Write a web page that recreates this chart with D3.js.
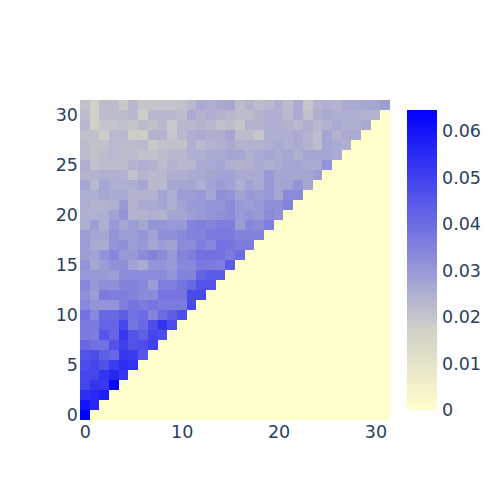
<!DOCTYPE html>
<html>
<head>
<meta charset="utf-8">
<script src="https://cdn.jsdelivr.net/npm/d3@7"></script>
<style>
  body { margin: 0; background: #fff; }
  text { font-family: "DejaVu Sans", Verdana, sans-serif; }
</style>
</head>
<body>
<svg id="chart"></svg>
<script>
const rows = [
  [0.0645],
  [0.060, 0.056],
  [0.054, 0.055, 0.058],
  [0.049, 0.053, 0.052, 0.063],
  [0.049, 0.049, 0.053, 0.056, 0.052],
  [0.047, 0.049, 0.046, 0.051, 0.054, 0.053],
  [0.046, 0.047, 0.043, 0.041, 0.052, 0.051, 0.045],
  [0.041, 0.039, 0.039, 0.046, 0.050, 0.046, 0.047, 0.050],
  [0.037, 0.036, 0.045, 0.042, 0.052, 0.046, 0.043, 0.049, 0.047],
  [0.037, 0.037, 0.042, 0.042, 0.049, 0.038, 0.041, 0.047, 0.053, 0.047],
  [0.039, 0.034, 0.041, 0.041, 0.043, 0.039, 0.040, 0.035, 0.040, 0.043, 0.047],
  [0.034, 0.031, 0.031, 0.031, 0.036, 0.038, 0.037, 0.038, 0.037, 0.037, 0.037, 0.048],
  [0.032, 0.029, 0.037, 0.036, 0.036, 0.035, 0.033, 0.033, 0.038, 0.038, 0.038, 0.048, 0.048],
  [0.034, 0.030, 0.032, 0.032, 0.035, 0.035, 0.034, 0.029, 0.036, 0.036, 0.038, 0.041, 0.046, 0.046],
  [0.030, 0.030, 0.030, 0.029, 0.033, 0.033, 0.033, 0.033, 0.033, 0.031, 0.035, 0.035, 0.042, 0.044, 0.044],
  [0.031, 0.027, 0.029, 0.032, 0.032, 0.028, 0.026, 0.031, 0.031, 0.030, 0.034, 0.034, 0.037, 0.037, 0.036, 0.044],
  [0.029, 0.028, 0.031, 0.034, 0.030, 0.030, 0.033, 0.035, 0.033, 0.030, 0.035, 0.036, 0.039, 0.039, 0.039, 0.037, 0.040],
  [0.029, 0.026, 0.026, 0.031, 0.032, 0.029, 0.030, 0.027, 0.029, 0.028, 0.033, 0.033, 0.036, 0.034, 0.039, 0.038, 0.036, 0.037],
  [0.029, 0.027, 0.027, 0.031, 0.029, 0.029, 0.031, 0.028, 0.032, 0.032, 0.034, 0.035, 0.035, 0.037, 0.037, 0.037, 0.035, 0.035, 0.035],
  [0.025, 0.029, 0.025, 0.030, 0.027, 0.029, 0.027, 0.031, 0.031, 0.030, 0.030, 0.035, 0.036, 0.035, 0.036, 0.036, 0.029, 0.034, 0.033, 0.036],
  [0.025, 0.025, 0.025, 0.028, 0.031, 0.024, 0.024, 0.025, 0.024, 0.027, 0.027, 0.029, 0.030, 0.031, 0.032, 0.033, 0.030, 0.031, 0.030, 0.033, 0.032],
  [0.025, 0.024, 0.024, 0.025, 0.030, 0.024, 0.026, 0.026, 0.027, 0.025, 0.028, 0.030, 0.030, 0.031, 0.031, 0.033, 0.030, 0.029, 0.030, 0.032, 0.032, 0.035],
  [0.025, 0.025, 0.027, 0.026, 0.026, 0.024, 0.024, 0.024, 0.027, 0.025, 0.029, 0.029, 0.030, 0.027, 0.032, 0.031, 0.028, 0.030, 0.029, 0.030, 0.027, 0.033, 0.033],
  [0.027, 0.023, 0.027, 0.025, 0.025, 0.025, 0.027, 0.023, 0.023, 0.027, 0.027, 0.027, 0.025, 0.028, 0.029, 0.028, 0.025, 0.028, 0.026, 0.030, 0.027, 0.028, 0.031, 0.027],
  [0.024, 0.024, 0.025, 0.025, 0.024, 0.021, 0.024, 0.023, 0.023, 0.025, 0.025, 0.026, 0.026, 0.027, 0.028, 0.028, 0.026, 0.026, 0.026, 0.030, 0.027, 0.027, 0.027, 0.027, 0.029],
  [0.025, 0.021, 0.022, 0.022, 0.022, 0.024, 0.025, 0.024, 0.022, 0.024, 0.023, 0.023, 0.026, 0.026, 0.027, 0.025, 0.024, 0.025, 0.026, 0.025, 0.026, 0.027, 0.027, 0.026, 0.026, 0.031],
  [0.022, 0.021, 0.022, 0.023, 0.022, 0.022, 0.021, 0.021, 0.022, 0.023, 0.023, 0.025, 0.025, 0.026, 0.026, 0.027, 0.027, 0.025, 0.026, 0.027, 0.026, 0.027, 0.025, 0.027, 0.027, 0.027, 0.026],
  [0.022, 0.021, 0.021, 0.023, 0.022, 0.022, 0.023, 0.019, 0.021, 0.021, 0.021, 0.025, 0.023, 0.024, 0.025, 0.026, 0.024, 0.024, 0.024, 0.025, 0.026, 0.025, 0.026, 0.024, 0.022, 0.027, 0.026, 0.025],
  [0.021, 0.021, 0.018, 0.023, 0.023, 0.018, 0.018, 0.024, 0.024, 0.020, 0.023, 0.025, 0.026, 0.025, 0.025, 0.027, 0.022, 0.022, 0.020, 0.025, 0.025, 0.025, 0.026, 0.024, 0.022, 0.027, 0.024, 0.026, 0.026],
  [0.023, 0.017, 0.020, 0.020, 0.021, 0.020, 0.022, 0.021, 0.023, 0.019, 0.023, 0.023, 0.024, 0.023, 0.021, 0.022, 0.020, 0.024, 0.024, 0.025, 0.025, 0.024, 0.023, 0.025, 0.023, 0.024, 0.026, 0.025, 0.025, 0.026],
  [0.022, 0.017, 0.022, 0.022, 0.022, 0.023, 0.018, 0.023, 0.023, 0.023, 0.022, 0.026, 0.024, 0.025, 0.024, 0.023, 0.022, 0.022, 0.024, 0.025, 0.025, 0.023, 0.026, 0.021, 0.025, 0.026, 0.025, 0.025, 0.025, 0.024, 0.024],
  [0.021, 0.017, 0.022, 0.022, 0.019, 0.023, 0.020, 0.020, 0.020, 0.020, 0.021, 0.023, 0.026, 0.025, 0.026, 0.027, 0.022, 0.024, 0.022, 0.023, 0.025, 0.022, 0.026, 0.020, 0.024, 0.025, 0.024, 0.026, 0.026, 0.027, 0.027, 0.029]
];
const axisTicks = [0, 10, 20, 30];
const yTicks = [0, 5, 10, 15, 20, 25, 30];
const barTicks = [0, 0.01, 0.02, 0.03, 0.04, 0.05, 0.06];
const zMax = 0.0645;
const stops = [0, 0.0175, 0.0645];
const stopColors = ["#ffffcc", "#d0d0c8", "#0000ff"];

const svg = d3.select("#chart").attr("width", 500).attr("height", 500);
const x = d3.scaleLinear().domain([-0.5, 31.5]).range([80, 390]);
const y = d3.scaleLinear().domain([-0.5, 31.5]).range([420, 100]);
const color = d3.scaleLinear().domain(stops).range(stopColors);

// build the full grid, empty triangle is zero
const cells = [];
for (let r = 0; r < 32; r++) {
  for (let c = 0; c < 32; c++) {
    cells.push({ r: r, c: c, v: rows[r][c] === undefined ? 0 : rows[r][c] });
  }
}

svg.append("g").selectAll("rect")
  .data(cells)
  .enter().append("rect")
  .attr("x", d => x(d.c - 0.5))
  .attr("y", d => y(d.r + 0.5))
  .attr("width", d => x(d.c + 0.5) - x(d.c - 0.5))
  .attr("height", d => y(d.r - 0.5) - y(d.r + 0.5))
  .attr("fill", d => color(d.v))
  .attr("shape-rendering", "crispEdges");

const xAxis = d3.axisBottom(x).tickValues(axisTicks).tickSize(0).tickPadding(6).tickFormat(d3.format("d"));
const yAxis = d3.axisLeft(y).tickValues(yTicks).tickSize(0).tickPadding(2).tickFormat(d3.format("d"));

svg.append("g").attr("transform", "translate(0,420)").call(xAxis);
svg.append("g").attr("transform", "translate(80,0)").call(yAxis);

// colorbar
const barY = d3.scaleLinear().domain([0, zMax]).range([410, 110]);
const grad = svg.append("defs").append("linearGradient")
  .attr("id", "bar").attr("x1", 0).attr("y1", 1).attr("x2", 0).attr("y2", 0);
grad.selectAll("stop")
  .data(stops)
  .enter().append("stop")
  .attr("offset", d => d / zMax)
  .attr("stop-color", (d, i) => stopColors[i]);

svg.append("rect")
  .attr("x", 407)
  .attr("y", barY(zMax))
  .attr("width", 30)
  .attr("height", barY(0) - barY(zMax))
  .attr("fill", "url(#bar)");

const barAxis = d3.axisRight(barY).tickValues(barTicks).tickSize(0).tickPadding(5).tickFormat(d => d === 0 ? "0" : d3.format(".2f")(d));
svg.append("g").attr("transform", "translate(437,0)").call(barAxis);

svg.selectAll(".domain").remove();
svg.selectAll(".tick text").attr("fill", "#2a3f5f").style("font-size", "17.5px");
</script>
</body>
</html>
